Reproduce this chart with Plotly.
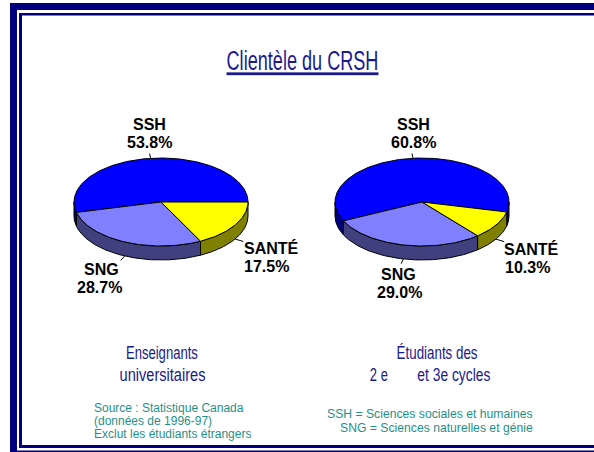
import json
import math
import plotly.graph_objects as go

# ---- data ----
categories = ["SSH", "SNG", "SANTÉ"]
teachers_values = [53.8, 28.7, 17.5]
students_values = [60.8, 29.0, 10.3]
title_text = "Clientèle du CRSH"
teachers_lines = ["Enseignants", "universitaires"]
students_lines = ["Étudiants des", "2 e", "et 3e cycles"]
source_lines = ["Source : Statistique Canada", "(données de 1996-97)", "Exclut les étudiants étrangers"]
abbrev_lines = ["SSH = Sciences sociales et humaines", "SNG = Sciences naturelles et génie"]

# ---- style ----
TOP = ["#0000ff", "#8080ff", "#ffff00"]
SIDE = ["#00007f", "#40407f", "#7f7f00"]
NAVY = "#00007f"
TITLE_BLUE = "#1a1a8c"
TEAL = "#1f9088"
NARROW = "Liberation Sans Narrow, Liberation Sans, sans-serif"
SANS = "Liberation Sans, Arial, sans-serif"
RX, RY, DEPTH = 87, 44, 14
WIDTHS = {title_text: 152, teachers_lines[0]: 72, teachers_lines[1]: 86, students_lines[0]: 81,
          students_lines[1]: 18, students_lines[2]: 73}

fig = go.Figure()


def pt(cx, cy, a, dy=0, k=1.0):
    r = math.radians(a)
    return cx + k * RX * math.cos(r), cy - k * RY * math.sin(r) + dy


def arc(a0, a1):
    n = max(2, int(abs(a1 - a0)) + 1)
    return [a0 + (a1 - a0) * i / (n - 1) for i in range(n)]


def poly(xs, ys, fill):
    fig.add_trace(go.Scatter(x=xs, y=ys, mode="lines", fill="toself", fillcolor=fill,
                             line=dict(color="black", width=1), hoverinfo="skip", showlegend=False))


def label(x, y, text, font, size, color, bold=False, anchor="center"):
    fig.add_annotation(x=x, y=y, xref="x", yref="y", text=f"<b>{text}</b>" if bold else text,
                       showarrow=False, xanchor=anchor, yanchor="middle",
                       font=dict(family=font, size=size, color=color), borderpad=0, borderwidth=0)


def pie(values, cx, cy, start, label_pos):
    angles = [start]
    for v in values:
        angles.append(angles[-1] + v * 3.6)
    # walls
    for i in range(len(values)):
        a0, a1 = angles[i], angles[i + 1]
        for lo, hi in ((-180, 0), (180, 360), (540, 720)):
            s, e = max(a0, lo), min(a1, hi)
            if e > s:
                top = [pt(cx, cy, a) for a in arc(s, e)]
                bot = [pt(cx, cy, a, DEPTH) for a in arc(e, s)]
                pts = top + bot + [top[0]]
                poly([p[0] for p in pts], [p[1] for p in pts], SIDE[i])
    # tops
    for i in range(len(values)):
        rim = [pt(cx, cy, a) for a in arc(angles[i], angles[i + 1])]
        pts = [(cx, cy)] + rim + [(cx, cy)]
        poly([p[0] for p in pts], [p[1] for p in pts], TOP[i])
    # leaders and labels
    for i, (name, v) in enumerate(zip(categories, values)):
        mid = (angles[i] + angles[i + 1]) / 2
        dy = DEPTH if math.sin(math.radians(mid)) < 0 else 0
        p0, p1 = pt(cx, cy, mid, dy), pt(cx, cy, mid, dy, 1.11)
        fig.add_trace(go.Scatter(x=[p0[0], p1[0]], y=[p0[1], p1[1]], mode="lines",
                                 line=dict(color="black", width=1), hoverinfo="skip", showlegend=False))
        lx, px, ly = label_pos[i]
        label(lx, ly, name, SANS, 16, "black", bold=True)
        label(px, ly + 18, f"{v:.1f}%", SANS, 16, "black", bold=True)


pie(teachers_values, 161, 202, 0, [(149, 149, 124), (101, 99, 269), (271, 266, 248)])
pie(students_values, 422, 202, -13.5, [(413, 413, 124), (398, 399, 274), (531, 527, 249)])

# frame
for x0, y0, x1, y1 in [(10, 3, 594, 10), (10, 3, 17, 452), (10, 450.5, 594, 452),
                       (19, 13, 594, 15.5), (19, 13, 22, 448), (19, 445, 594, 448)]:
    fig.add_shape(type="rect", x0=x0, y0=y0, x1=x1, y1=y1, fillcolor=NAVY, line_width=0)

label(302, 60, f"<u>{title_text}</u>", NARROW, 28, TITLE_BLUE)
label(162, 352, teachers_lines[0], NARROW, 18.5, TITLE_BLUE)
label(162, 374, teachers_lines[1], NARROW, 18.5, TITLE_BLUE)
label(437, 352, students_lines[0], NARROW, 18.5, TITLE_BLUE)
label(379, 374, students_lines[1], NARROW, 18.5, TITLE_BLUE)
label(453.5, 374, students_lines[2], NARROW, 18.5, TITLE_BLUE)
for y, t in zip([408, 421, 434], source_lines):
    label(94, y, t, SANS, 12, TEAL, anchor="left")
for y, t in zip([414, 428], abbrev_lines):
    label(533, y, t, SANS, 12.2, TEAL, anchor="right")

fig.update_layout(width=594, height=452, margin=dict(l=0, r=0, t=0, b=0),
                  paper_bgcolor="white", plot_bgcolor="white", showlegend=False,
                  xaxis=dict(range=[0, 594], visible=False, fixedrange=True),
                  yaxis=dict(range=[452, 0], visible=False, fixedrange=True))

POST = """
document.body.style.margin = '0';
document.body.style.overflow = 'hidden';
var widths = %s;
document.querySelectorAll('.annotation-text').forEach(function (t) {
  var w = widths[t.textContent];
  if (!w) return;
  var b = t.getBBox();
  var cx = b.x + b.width / 2;
  t.setAttribute('transform', 'translate(' + cx + ',0) scale(' + (w / b.width) + ',1) translate(' + (-cx) + ',0)');
});
""" % json.dumps(WIDTHS)
fig.write_html("out.html", config={"displayModeBar": False}, post_script=POST)
